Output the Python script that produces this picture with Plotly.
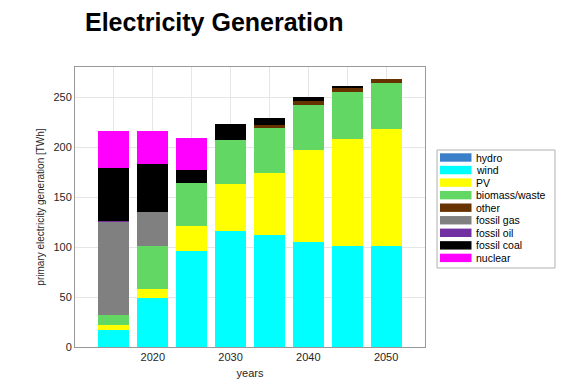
import plotly.graph_objects as go

years = [2015, 2020, 2025, 2030, 2035, 2040, 2045, 2050]
hydro = [0, 0, 0, 0, 0, 0, 0, 0]
wind = [17, 49, 96, 116, 112, 105, 101, 101]
pv = [5, 9, 25, 47, 62, 92, 107, 117]
biomass = [10, 43, 43, 44, 45, 45, 47, 46]
other = [0, 0, 0, 0, 3, 4, 4, 4]
gas = [93, 34, 0, 0, 0, 0, 0, 0]
oil = [1.5, 0, 0, 0, 0, 0, 0, 0]
coal = [53, 48, 13, 16, 7, 4, 2, 0]
nuclear = [37, 33, 32, 0, 0, 0, 0, 0]

names = ["hydro", "wind", "PV", "biomass/waste", "other",
         "fossil gas", "fossil oil", "fossil coal", "nuclear"]
colors = ["#3a7fc8", "#00ffff", "#ffff00", "#63d763", "#663300",
          "#808080", "#7030a0", "#000000", "#ff00ff"]
values = [hydro, wind, pv, biomass, other, gas, oil, coal, nuclear]

tick_vals = [2010, 2015, 2020, 2025, 2030, 2035, 2040, 2045, 2050, 2055]
tick_text = ["", "", "2020", "", "2030", "", "2040", "", "2050", ""]
y_ticks = [0, 50, 100, 150, 200, 250]

# page body has an 8px margin; figure sized to compensate
W, H = 564, 380
ML, MR, MT, MB = 67, 147, 59, 41
PW, PH = W - ML - MR, H - MT - MB

fig = go.Figure()
for name, vals, color in zip(names, values, colors):
    fig.add_trace(go.Bar(x=years, y=vals, name=name, width=4, showlegend=False,
                         marker=dict(color=color, line=dict(width=0))))

# custom compact legend (paper coordinates)
def px_x(px):
    return (px - 8 - ML) / PW

def px_y(py):
    return (H - MB - (py - 8)) / PH

shapes = []
annotations = []
leg_left, leg_right, leg_top, leg_bot = 437, 555, 150, 268
shapes.append(dict(type="rect", xref="paper", yref="paper",
                   x0=px_x(leg_left), x1=px_x(leg_right), y0=px_y(leg_bot), y1=px_y(leg_top),
                   line=dict(color="#b0b0b0", width=1), fillcolor="white", layer="above"))
row0, pitch = 157.5, 12.55
for i, (name, color) in enumerate(zip(names, colors)):
    cy = row0 + i * pitch
    shapes.append(dict(type="rect", xref="paper", yref="paper",
                       x0=px_x(440), x1=px_x(471.5), y0=px_y(cy + 4.2), y1=px_y(cy - 4.2),
                       line=dict(width=0), fillcolor=color, layer="above"))
    annotations.append(dict(text=name, xref="paper", yref="paper", x=px_x(474), y=px_y(cy),
                            xanchor="left", yanchor="middle", showarrow=False,
                            font=dict(size=10.5, color="black")))

fig.update_layout(
    barmode="stack",
    width=W, height=H,
    margin=dict(l=ML, r=MR, t=MT, b=MB, autoexpand=False),
    paper_bgcolor="white", plot_bgcolor="white",
    font=dict(family="Liberation Sans, Arial, sans-serif", size=11, color="#262626"),
    title=dict(text="<b>Electricity Generation</b>", x=(85 - 8) / W, xanchor="left",
               y=1 - (22.5 - 8) / H, yanchor="middle",
               font=dict(family="Liberation Sans, Arial, sans-serif", size=25, color="black")),
    shapes=shapes, annotations=annotations,
    showlegend=False,
)
fig.update_xaxes(range=[2010, 2055], tickvals=tick_vals, ticktext=tick_text,
                 showgrid=True, gridcolor="#e6e6e6", showline=True, linecolor="#999999",
                 mirror=True, ticks="", automargin=False,
                 title=dict(text="years", font=dict(size=11), standoff=7))
fig.update_yaxes(range=[0, 280], tickvals=y_ticks,
                 showgrid=True, gridcolor="#e6e6e6", showline=True, linecolor="#999999",
                 mirror=True, ticks="", zeroline=False, automargin=False,
                 title=dict(text="primary electricity generation [TWh]", font=dict(size=10), standoff=6))

fig.write_html("out.html")
